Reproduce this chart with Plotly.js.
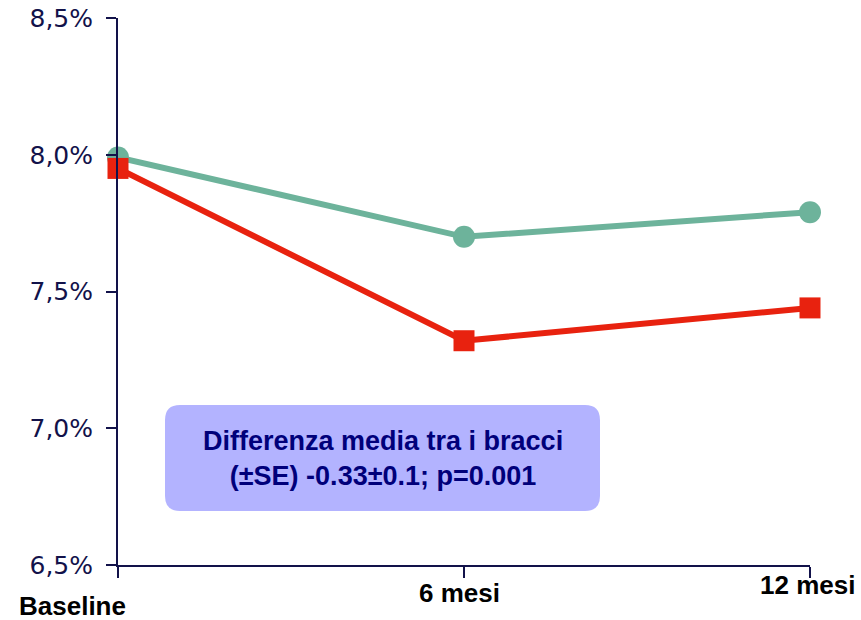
<!DOCTYPE html>
<html>
<head>
<meta charset="utf-8">
<script src="https://cdn.plot.ly/plotly-3.0.1.min.js"></script>
<style>html,body{margin:0;padding:0;background:#fff;}#chart{width:861px;height:620px;}</style>
</head>
<body>
<div id="chart"></div>
<script>
// Data
var categories = ["Baseline", "6 mesi", "12 mesi"];
var greenValues = [7.99, 7.70, 7.79];
var redValues = [7.95, 7.32, 7.44];
var yTickValues = [6.5, 7.0, 7.5, 8.0, 8.5];
var yTickLabels = ["6,5%", "7,0%", "7,5%", "8,0%", "8,5%"];
var boxText = "Differenza media tra i bracci<br>(±SE) -0.33±0.1; p=0.001";

var W = 861, H = 620;
var M = {l: 118, r: 51, t: 18, b: 55};
var PW = W - M.l - M.r, PH = H - M.t - M.b;
function px(x) { return (x - M.l) / PW; }
function py(y) { return (H - M.b - y) / PH; }

var xIdx = categories.map(function (c, i) { return i; });
var navy = "#12124a";
var labelFont = "'Liberation Sans', Arial, sans-serif";

var traces = [
  {
    x: xIdx, y: greenValues, type: "scatter", mode: "lines+markers",
    line: {color: "#6db39b", width: 6},
    marker: {symbol: "circle", size: 22, color: "#6db39b"},
    cliponaxis: false, hoverinfo: "skip", showlegend: false
  },
  {
    x: xIdx, y: redValues, type: "scatter", mode: "lines+markers",
    line: {color: "#e8220f", width: 6},
    marker: {symbol: "square", size: 21, color: "#e8220f"},
    cliponaxis: false, hoverinfo: "skip", showlegend: false
  }
];

// rounded box (pixel coords -> paper)
var bx0 = 165, bx1 = 600, by0 = 405, by1 = 511, r = 15;
function P(x, y) { return px(x).toFixed(5) + "," + py(y).toFixed(5); }
var boxPath = "M" + P(bx0 + r, by0) + " L" + P(bx1 - r, by0) +
  " Q" + P(bx1, by0) + " " + P(bx1, by0 + r) +
  " L" + P(bx1, by1 - r) + " Q" + P(bx1, by1) + " " + P(bx1 - r, by1) +
  " L" + P(bx0 + r, by1) + " Q" + P(bx0, by1) + " " + P(bx0, by1 - r) +
  " L" + P(bx0, by0 + r) + " Q" + P(bx0, by0) + " " + P(bx0 + r, by0) + " Z";

var labelYShift = [-41, -28, -20];
var labelXShift = [-46, -5, -3];
var annotations = categories.map(function (c, i) {
  return {
    x: i, xref: "x", y: 0, yref: "paper", text: "<b>" + c + "</b>",
    showarrow: false, xanchor: "center", yanchor: "middle",
    xshift: labelXShift[i], yshift: labelYShift[i],
    font: {family: labelFont, size: 26, color: "#000000"}
  };
});
annotations.push({
  x: px((bx0 + bx1) / 2), xref: "paper", y: py((by0 + by1) / 2), yref: "paper",
  text: "<b>" + boxText + "</b>", showarrow: false, xanchor: "center", yanchor: "middle",
  align: "center",
  font: {family: labelFont, size: 27, color: "#00007a"}
});

var layout = {
  width: W, height: H,
  margin: M,
  paper_bgcolor: "#ffffff", plot_bgcolor: "#ffffff",
  showlegend: false,
  xaxis: {
    range: [0, 2], showgrid: false, zeroline: false,
    showline: true, linecolor: navy, linewidth: 2,
    tickvals: xIdx, ticks: "outside", ticklen: 11, tickwidth: 2, tickcolor: navy,
    showticklabels: false, fixedrange: true
  },
  yaxis: {
    range: [6.5, 8.5], showgrid: false, zeroline: false,
    showline: true, linecolor: navy, linewidth: 2,
    tickvals: yTickValues, ticktext: yTickLabels,
    ticks: "outside", ticklen: 10, tickwidth: 2, tickcolor: navy,
    ticklabelstandoff: 8,
    tickfont: {family: "'DejaVu Sans', sans-serif", size: 25, color: navy},
    fixedrange: true
  },
  shapes: [{
    type: "path", xref: "paper", yref: "paper", path: boxPath,
    fillcolor: "#b3b3ff", line: {width: 0}, layer: "below"
  }],
  annotations: annotations
};

Plotly.newPlot("chart", traces, layout, {displayModeBar: false, staticPlot: true});
</script>
</body>
</html>
